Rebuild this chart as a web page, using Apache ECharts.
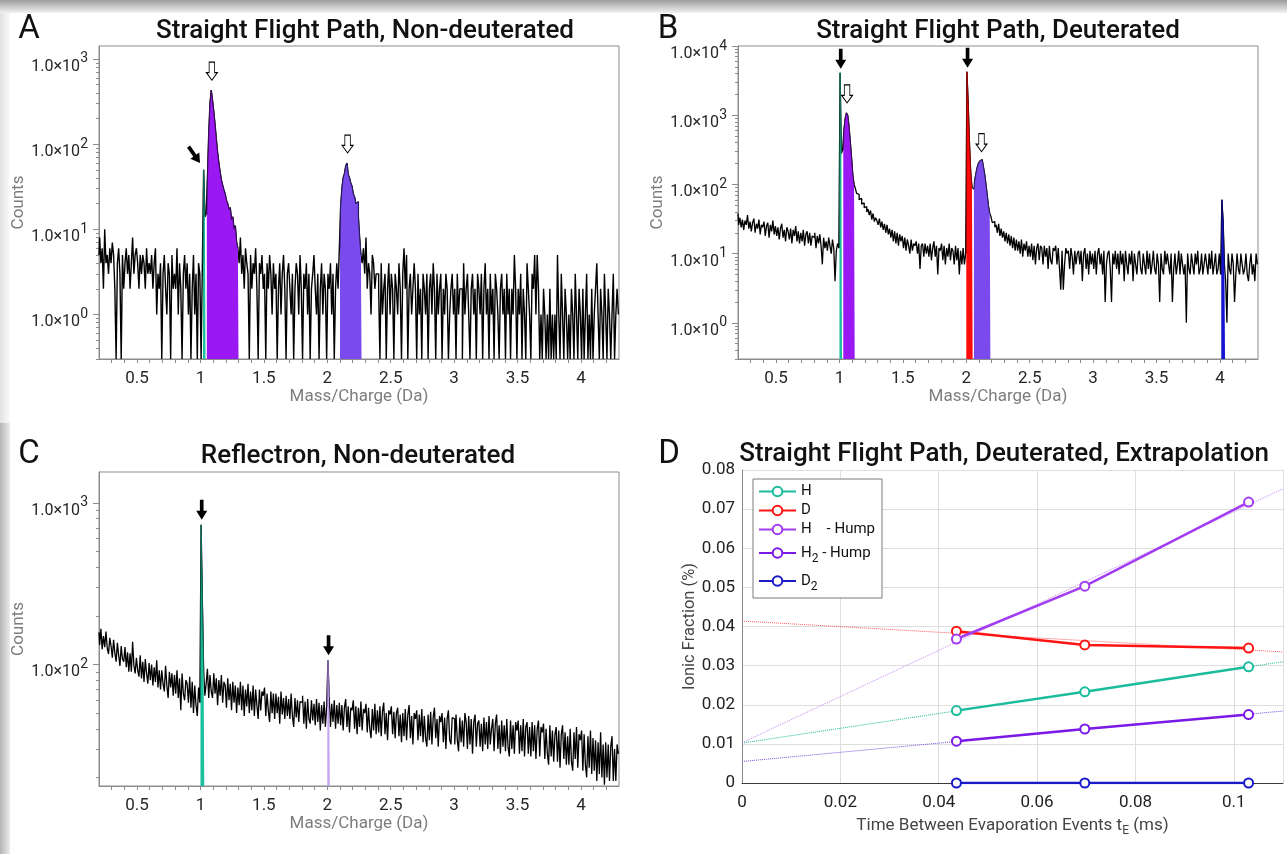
<!DOCTYPE html>
<html>
<head>
<meta charset="utf-8">
<title>Hydrogen and deuterium mass spectra</title>
<script src="https://cdn.jsdelivr.net/npm/echarts@6/dist/echarts.min.js"></script>
<style>
  html, body { margin: 0; padding: 0; background: #ffffff; }
  #chart { width: 1287px; height: 854px; }
</style>
</head>
<body>
<div id="chart"></div>
<script>
// ---- spectra: counts per 0.01 Da bin, first bin centred at 0.20 Da ----
const MZ_START = 0.20;
const MZ_STEP = 0.01;
const mzTickLabels = [0.5, 1, 1.5, 2, 2.5, 3, 3.5, 4];

// Straight flight path, non-deuterated
const countsA = [
  5,8,4,6,2,10,4,5,3,6,
  4,7,5,2,0,4,6,3,0,5,
  2,4,6,3,5,2,4,8,3,5,
  6,4,2,5,3,5,4,2,6,3,
  4,3,5,2,4,6,1,3,2,4,
  0,3,5,2,1,4,3,0,5,2,
  3,2,6,1,4,2,0,3,5,2,
  4,1,3,0,2,5,1,3,0,4,
  3,0,4,50,14,15,40,130,300,430,
  330,240,170,115,80,60,47,38,33,29,
  26,22,20,17,18,13,14,10,11,7,
  6,4,8,3,5,2,6,4,3,0,
  5,2,4,3,6,2,0,4,3,5,
  2,3,0,4,2,5,3,1,4,2,
  3,0,2,4,1,3,5,2,0,3,
  4,2,1,3,0,2,4,3,1,5,
  2,0,3,2,4,1,3,0,2,3,
  5,2,1,3,0,2,4,1,3,2,
  0,3,2,4,1,3,0,2,4,2,
  6,18,30,40,45,55,60,44,40,35,
  32,26,24,20,21,14,8,5,4,6,
  3,8,2,4,3,1,5,4,2,3,
  3,2,0,4,1,2,3,0,2,4,
  1,3,2,0,3,2,1,4,2,0,
  3,6,2,5,0,2,3,1,2,4,
  2,0,3,1,2,0,3,2,1,3,
  0,2,3,1,4,2,0,3,1,2,
  3,0,2,1,3,2,0,1,2,3,
  1,2,0,3,1,2,2,0,4,1,
  2,3,1,0,2,3,1,2,0,3,
  2,1,3,0,2,4,1,2,0,3,
  1,2,0,3,2,1,0,2,3,1,
  2,0,3,1,2,0,2,1,5,2,
  0,2,1,3,0,2,1,0,4,2,
  1,0,3,2,5,1,5,2,0,1,
  0,2,1,0,1,0,2,0,1,0,
  1,0,5,1,0,3,1,0,2,1,
  0,1,0,2,1,0,3,1,0,2,
  1,0,2,0,1,3,0,1,0,2,
  0,1,2,4,1,0,2,1,0,3,
  1,0,2,1,0,1,3,0,1,2,
  1
];

// Straight flight path, deuterated
const countsB = [
  38,26,33,24,31,22,30,26,36,23,
  29,21,28,32,20,27,23,31,19,26,
  24,29,18,25,28,17,26,21,30,19,
  25,18,24,16,23,27,17,22,15,24,
  21,16,23,14,22,18,25,15,21,14,
  20,15,22,13,19,21,14,20,13,18,
  17,20,12,18,14,19,13,7,17,12,
  15,11,17,13,10,16,12,4,11,14,
  12,4100,280,320,600,900,1080,1000,700,420,
  250,140,100,88,74,72,60,63,52,54,
  46,48,40,44,36,42,31,38,29,33,
  30,26,32,24,29,22,27,20,26,19,
  23,17,22,15,21,14,20,13,19,15,
  18,12,17,11,16,13,10,16,11,14,
  13,15,10,14,6,13,14,9,14,10,
  13,9,14,8,12,15,9,13,5,12,
  11,14,8,13,7,12,9,14,8,12,
  11,7,13,8,12,5,11,7,12,7,
  10,4250,1500,400,150,90,85,110,140,175,
  200,215,228,215,180,140,100,70,48,38,
  34,28,29,24,26,20,27,18,23,17,
  21,15,20,14,19,13,18,12,17,11,
  16,11,15,10,16,9,14,11,15,9,
  13,9,14,8,13,7,12,14,8,13,
  12,7,13,9,12,6,13,8,7,12,
  11,13,7,12,6,3,11,3,7,12,
  10,11,6,12,9,5,11,7,10,11,
  7,11,4,10,12,6,10,5,11,7,
  10,6,11,5,10,12,7,10,5,11,
  2,7,10,11,6,2,10,7,11,6,
  10,5,11,7,10,4,11,7,5,10,
  7,11,4,10,7,5,10,11,6,5,
  10,7,5,11,6,10,5,7,11,6,
  5,10,7,2,10,6,5,11,7,10,
  7,5,10,2,6,10,5,7,11,5,
  10,7,5,7,1,10,6,5,10,7,
  5,10,7,11,5,6,10,5,7,10,
  7,5,10,6,11,5,7,10,5,6,
  10,5,60,30,7,4,1,10,6,5,
  10,7,2,5,10,6,5,10,7,5,
  6,10,5,4,7,10,5,7,4,10,
  7
];

// Reflectron, non-deuterated
const countsC = [
  158,132,166,124,150,128,160,126,116,146,
  130,110,142,118,104,136,114,98,130,108,
  104,128,96,119,90,117,90,138,99,88,
  110,92,84,114,82,104,78,108,88,76,
  102,80,100,74,96,78,106,72,92,70,
  92,76,68,98,74,62,90,72,88,64,
  86,66,92,62,82,52,88,66,60,80,
  76,58,84,54,78,50,74,56,48,72,
  58,730,250,92,64,76,94,62,86,68,
  62,88,66,82,56,80,64,86,58,78,
  74,54,82,60,76,52,78,58,74,50,
  72,56,78,52,74,48,70,55,76,50,
  68,52,74,48,70,56,46,70,52,68,
  64,72,48,66,52,44,68,50,66,46,
  66,50,63,43,68,49,62,46,64,48,
  61,46,66,48,41,62,47,60,44,59,
  58,64,43,59,40,61,46,43,60,45,
  57,42,61,44,58,39,56,43,59,41,
  55,106,63,41,57,44,60,40,56,43,
  58,42,56,39,54,61,41,55,38,54,
  52,60,40,55,37,54,41,59,39,53,
  50,57,38,54,40,35,53,39,57,37,
  52,38,55,36,51,58,37,50,34,52,
  49,55,37,51,35,50,54,36,49,33,
  50,36,53,34,49,56,35,48,32,50,
  46,52,34,49,36,53,33,48,35,31,
  49,34,51,32,47,54,35,46,31,48,
  44,50,33,47,30,46,52,34,32,47,
  46,32,49,34,29,47,33,45,31,50,
  44,30,48,32,46,28,44,49,31,43,
  45,31,43,29,47,32,44,30,48,32,
  40,46,29,43,49,30,42,28,45,31,
  42,29,46,31,27,45,30,42,28,44,
  39,45,28,42,29,46,27,41,44,28,
  41,27,44,29,42,26,40,45,27,41,
  38,43,26,40,28,24,42,27,39,25,
  37,41,25,39,23,37,42,26,38,24,
  36,24,40,25,22,38,26,41,23,37,
  34,39,22,37,24,20,36,23,39,21,
  35,22,34,19,33,21,38,20,32,18,
  33,20,32,19,31,36,19,30,19,32,
  28
];

// ---- ionic fractions versus time between evaporation events ----
const tE = [0.0436, 0.0697, 0.103];
const fracH = [0.0185, 0.0233, 0.0297];
const fracD = [0.0388, 0.0353, 0.0345];
const fracHHump = [0.0368, 0.0503, 0.0718];
const fracH2Hump = [0.0107, 0.0138, 0.0175];
const fracD2 = [0, 0, 0];

// linear extrapolations, evaluated at both ends of the time axis
const fitT = [0, 0.11];
const fitH = [0.0102, 0.0310];
const fitD = [0.0414, 0.0335];
const fitHHump = [0.0103, 0.0752];
const fitH2Hump = [0.0055, 0.0184];

// ---- styling ----
const FONT = 'Roboto, "DejaVu Sans", sans-serif';
const BOX = '#8c8c8c';
const TEAL = '#1cbf9e', TEAL_EDGE = '#0d6b57';
const MAGENTA = '#9a18f2', MAGENTA_EDGE = '#3a0a5c';
const VIOLET = '#7a4aec', VIOLET_EDGE = '#2a1a66';
const RED = '#ff0a0a', RED_EDGE = '#9a0000';
const BLUE = '#1414d2', BLUE_EDGE = '#0a0a70';
const LAVENDER = '#c6a6f0', LAVENDER_EDGE = '#8a6ab8';

const ARROW_SOLID = 'path://M4,0 L8,0 L8,11 L12,11 L6,20 L0,11 L4,11 Z';
const ARROW_HOLLOW = 'path://M3,0 L9,0 L9,11 L12,11 L6,19 L0,11 L3,11 Z';

function binX(i) { return Math.round((MZ_START + i * MZ_STEP) * 100) / 100; }
function toPoints(counts, floor) {
  // empty bins sit on the lower edge of the log axis
  return counts.map((c, i) => [binX(i), c > 0 ? c : floor]);
}
function countAt(counts, x) { return counts[Math.round((x - MZ_START) / MZ_STEP)]; }
function decadeTicks(min, max) {
  const out = [];
  for (let e = -1; e <= 4; e++) {
    for (let k = 1; k <= 9; k++) {
      const v = +(k * Math.pow(10, e)).toPrecision(3);
      if (v >= min && v <= max) out.push(v);
    }
  }
  return out;
}
const mzMinorTicks = [];
for (let k = 3; k <= 42; k++) mzMinorTicks.push(k / 10);

const spectra = [
  {
    grid: { left: 99, top: 46, width: 520, height: 313 },
    yMin: 0.3, yMax: 1420, decades: [1, 10, 100, 1000], counts: countsA, traceWidth: 1.4,
    fills: [
      { from: 1.02, to: 1.04, fill: TEAL, edge: TEAL_EDGE },
      { from: 1.05, to: 1.30, fill: MAGENTA, edge: MAGENTA_EDGE },
      { from: 2.10, to: 2.27, fill: VIOLET, edge: VIOLET_EDGE }
    ],
    arrows: [
      { x: 1.09, kind: 'hollow', gap: 10 },
      { x: 2.16, kind: 'hollow', gap: 10 },
      { x: 1.03, kind: 'diagonal' }
    ]
  },
  {
    grid: { left: 738, top: 46, width: 520, height: 313 },
    yMin: 0.3, yMax: 10000, decades: [1, 10, 100, 1000, 10000], counts: countsB, traceWidth: 1.3,
    fills: [
      { from: 1.00, to: 1.02, fill: TEAL, edge: TEAL_EDGE },
      { from: 1.03, to: 1.12, fill: MAGENTA, edge: MAGENTA_EDGE },
      { from: 2.00, to: 2.05, fill: RED, edge: RED_EDGE },
      { from: 2.06, to: 2.19, fill: VIOLET, edge: VIOLET_EDGE },
      { from: 4.01, to: 4.04, fill: BLUE, edge: BLUE_EDGE }
    ],
    arrows: [
      { x: 1.01, kind: 'solid', gap: 4 },
      { x: 2.01, kind: 'solid', gap: 4 },
      { x: 1.06, kind: 'hollow', gap: 10 },
      { x: 2.12, kind: 'hollow', gap: 8 }
    ]
  },
  {
    grid: { left: 99, top: 472, width: 520, height: 314 },
    yMin: 17.7, yMax: 1550, decades: [100, 1000], counts: countsC, traceWidth: 1.3,
    fills: [
      { from: 1.00, to: 1.03, fill: TEAL, edge: TEAL_EDGE },
      { from: 2.00, to: 2.02, fill: LAVENDER, edge: LAVENDER_EDGE }
    ],
    arrows: [
      { x: 1.01, kind: 'solid', gap: 5 },
      { x: 2.01, kind: 'solid', gap: 5 }
    ]
  }
];

const grids = [];
const xAxes = [];
const yAxes = [];
const series = [];

const tickLabelStyle = { fontFamily: FONT, fontSize: 17, color: '#262626' };
const axisNameStyle = { fontFamily: FONT, fontSize: 17, color: '#7d7d7d' };

spectra.forEach((p, i) => {
  grids.push(Object.assign({ show: true, borderColor: BOX, borderWidth: 1, backgroundColor: 'transparent' }, p.grid));

  xAxes.push({
    type: 'value', gridIndex: i, min: 0.2, max: 4.3,
    axisLine: { show: true, onZero: false, lineStyle: { color: BOX } },
    axisTick: { show: true, length: 4, customValues: mzMinorTicks, lineStyle: { color: BOX } },
    axisLabel: Object.assign({ customValues: mzTickLabels, margin: 11 }, tickLabelStyle),
    splitLine: { show: false },
    name: 'Mass/Charge (Da)', nameLocation: 'middle', nameGap: 29,
    nameTextStyle: axisNameStyle
  });

  // decade labels: mantissa part
  yAxes.push({
    type: 'log', logBase: 10, gridIndex: i, position: 'left', min: p.yMin, max: p.yMax,
    axisLine: { show: true, lineStyle: { color: BOX } },
    axisTick: { show: true, length: 6, customValues: p.decades, lineStyle: { color: BOX } },
    axisLabel: {
      customValues: p.decades, margin: 19, verticalAlign: 'top', lineHeight: 16,
      formatter: () => '1.0×10',
      fontFamily: FONT, fontSize: 16, color: '#262626'
    },
    splitLine: { show: false },
    name: 'Counts', nameLocation: 'middle', nameGap: 72, nameTextStyle: axisNameStyle
  });
  // decade labels: raised exponent, plus the minor ticks
  yAxes.push({
    type: 'log', logBase: 10, gridIndex: i, position: 'left', min: p.yMin, max: p.yMax,
    axisLine: { show: false },
    axisTick: { show: true, length: 3, customValues: decadeTicks(p.yMin, p.yMax), lineStyle: { color: BOX } },
    axisLabel: {
      customValues: p.decades, margin: 11, verticalAlign: 'middle', lineHeight: 14, padding: [4, 0, 0, 0],
      formatter: v => String(Math.round(Math.log10(v))),
      fontFamily: FONT, fontSize: 14, color: '#262626'
    },
    splitLine: { show: false }
  });

  const pts = toPoints(p.counts, p.yMin);

  const markers = p.arrows.map(a => {
    const base = { coord: [a.x, countAt(p.counts, a.x)] };
    if (a.kind === 'diagonal') {
      return Object.assign(base, {
        symbol: ARROW_SOLID, symbolSize: [11, 20], symbolRotate: 35,
        symbolOffset: [-10, -15], itemStyle: { color: '#000' }
      });
    }
    if (a.kind === 'solid') {
      return Object.assign(base, {
        symbol: ARROW_SOLID, symbolSize: [11, 20], symbolOffset: [0, -(a.gap + 10)],
        itemStyle: { color: '#000' }
      });
    }
    return Object.assign(base, {
      symbol: ARROW_HOLLOW, symbolSize: [11, 18], symbolOffset: [0, -(a.gap + 9)],
      itemStyle: { color: '#fff', borderColor: '#000', borderWidth: 1 }
    });
  });

  series.push({
    type: 'line', xAxisIndex: i, yAxisIndex: 2 * i, data: pts, step: 'middle',
    symbol: 'none', lineStyle: { color: '#000', width: p.traceWidth }, z: 2, silent: true,
    markPoint: { data: markers, label: { show: false }, silent: true, animation: false }
  });

  p.fills.forEach(f => {
    series.push({
      type: 'line', xAxisIndex: i, yAxisIndex: 2 * i, step: 'middle', symbol: 'none', silent: true,
      data: pts.filter(q => q[0] >= f.from - 1e-6 && q[0] <= f.to + 1e-6),
      lineStyle: { color: f.edge, width: 1 },
      areaStyle: { color: f.fill, opacity: 1, origin: 'start' },
      z: 3
    });
  });
});

// ---- panel D ----
grids.push({ left: 742, top: 470, width: 541, height: 313, show: false });
xAxes.push({
  type: 'value', gridIndex: 3, min: 0, max: 0.11, interval: 0.02,
  axisLine: { show: true, onZero: false, lineStyle: { color: '#3a3a3a' } },
  axisTick: { show: false },
  axisLabel: Object.assign({ margin: 11, showMaxLabel: false }, tickLabelStyle, { color: '#222' }),
  splitLine: { show: true, lineStyle: { color: '#dedede' } },
  name: 'Time Between Evaporation Events t{s|E} (ms)', nameLocation: 'middle', nameGap: 31,
  nameTextStyle: {
    fontFamily: FONT, fontSize: 17, color: '#444',
    rich: { s: { fontFamily: FONT, fontSize: 12, color: '#444', padding: [11, 0, 0, 0] } }
  }
});
yAxes.push({
  type: 'value', gridIndex: 3, min: 0, max: 0.08, interval: 0.01,
  axisLine: { show: true, lineStyle: { color: '#888' } },
  axisTick: { show: false },
  axisLabel: Object.assign({ margin: 7 }, tickLabelStyle, { color: '#222' }),
  splitLine: { show: true, lineStyle: { color: '#dedede' } },
  name: 'Ionic Fraction (%)', nameLocation: 'middle', nameGap: 44,
  nameTextStyle: { fontFamily: FONT, fontSize: 16.5, color: '#444' }
});

const fractions = [
  { name: 'H', values: fracH, fit: fitH, color: '#1abc9c', fitColor: '#1abc9c' },
  { name: 'D', values: fracD, fit: fitD, color: '#ff1414', fitColor: '#ff5a5a' },
  { name: 'H - Hump', values: fracHHump, fit: fitHHump, color: '#a23cf0', fitColor: '#c488f4' },
  { name: 'H2 - Hump', values: fracH2Hump, fit: fitH2Hump, color: '#7a1ae6', fitColor: '#7d4ee0' },
  { name: 'D2', values: fracD2, fit: null, color: '#1a1ac8', fitColor: null }
];

fractions.forEach(f => {
  if (f.fit) {
    series.push({
      type: 'line', xAxisIndex: 3, yAxisIndex: 6, silent: true, symbol: 'none',
      data: fitT.map((t, k) => [t, f.fit[k]]),
      lineStyle: { color: f.fitColor, width: 1, type: 'dotted' }, z: 2
    });
  }
});
fractions.forEach(f => {
  series.push({
    name: f.name, type: 'line', xAxisIndex: 3, yAxisIndex: 6,
    data: tE.map((t, k) => [t, f.values[k]]),
    symbol: 'emptyCircle', symbolSize: 9,
    lineStyle: { color: f.color, width: 2.5 },
    itemStyle: { color: f.color, borderColor: f.color, borderWidth: 2 },
    z: 4
  });
});

const legendText = {
  'H': 'H',
  'D': 'D',
  'H - Hump': 'H    - Hump',
  'H2 - Hump': 'H{s|2} - Hump',
  'D2': 'D{s|2}'
};

function label(text, x, y, size, weight) {
  return {
    type: 'text', x: x, y: y, silent: true, z: 10,
    style: {
      text: text, font: (weight || 'normal') + ' ' + size + 'px ' + FONT, fill: '#111',
      textAlign: 'center', align: 'center',
      textVerticalAlign: 'middle', verticalAlign: 'middle'
    }
  };
}

// page edge shading around the figure sheet
function edge(x, y, w, h, horizontal, from, to) {
  return {
    type: 'rect', z: -10, silent: true,
    shape: { x: x, y: y, width: w, height: h },
    style: {
      fill: new echarts.graphic.LinearGradient(0, 0, horizontal ? 1 : 0, horizontal ? 0 : 1, [
        { offset: 0, color: from }, { offset: 1, color: to }
      ])
    }
  };
}

const option = {
  animation: false,
  backgroundColor: '#ffffff',
  grid: grids,
  xAxis: xAxes,
  yAxis: yAxes,
  series: series,
  legend: {
    data: fractions.map(f => f.name),
    orient: 'vertical', left: 753, top: 479,
    padding: [5, 7, 5, 5], itemGap: 4, itemWidth: 37, itemHeight: 12,
    backgroundColor: '#fff', borderColor: '#7a7a7a', borderWidth: 1, borderRadius: 0,
    selectedMode: false,
    formatter: name => legendText[name],
    textStyle: {
      fontFamily: FONT, fontSize: 15, color: '#111', padding: [0, 0, 0, 0],
      rich: { s: { fontFamily: FONT, fontSize: 12, lineHeight: 12, color: '#111', padding: [12, 0, 0, 0] } }
    }
  },
  graphic: [
    edge(0, 0, 1287, 13, false, '#9c9c9c', '#f2f2f2'),
    edge(0, 13, 10, 410, true, '#e2e2e2', '#fbfbfb'),
    edge(0, 423, 10, 431, true, '#b4b4b4', '#ececec'),
    label('A', 29, 30, 33),
    label('B', 668, 30, 33),
    label('C', 29, 455, 33),
    label('D', 669, 455, 33),
    label('Straight Flight Path, Non-deuterated', 365, 31, 26, 500),
    label('Straight Flight Path, Deuterated', 998, 31, 26, 500),
    label('Reflectron, Non-deuterated', 358, 456, 26, 500),
    label('Straight Flight Path, Deuterated, Extrapolation', 1004, 454, 26, 500)
  ]
};

const chart = echarts.init(document.getElementById('chart'), null, { renderer: 'canvas' });
chart.setOption(option);
</script>
</body>
</html>
